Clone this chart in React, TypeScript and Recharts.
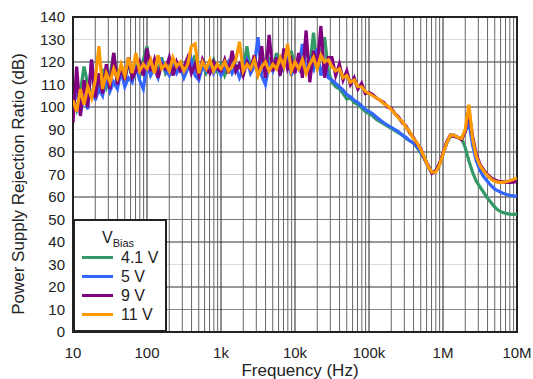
import React from 'react';
import { LineChart, Line, XAxis, YAxis, CartesianGrid, ReferenceArea } from 'recharts';

// frequency points (Hz), 20 per decade
const freqHz = [
  10, 11.2, 12.6, 14.1, 15.8, 17.8, 20, 22.4, 25.1, 28.2, 31.6, 35.5, 39.8, 44.7, 50.1, 56.2, 63.1, 70.8, 79.4, 89.1,
  100, 112, 126, 141, 158, 178, 200, 224, 251, 282, 316, 355, 398, 447, 501, 562, 631, 708, 794, 891,
  1000, 1122, 1259, 1413, 1585, 1778, 1995, 2239, 2512, 2818, 3162, 3548, 3981, 4467, 5012, 5623, 6310, 7079, 7943, 8913,
  10000, 11220, 12590, 14130, 15850, 17780, 19950, 22390, 25120, 28180, 31620, 35480, 39810, 44670, 50120, 56230, 63100, 70790, 79430, 89130,
  100000, 112200, 125900, 141300, 158500, 177800, 199500, 223900, 251200, 281800, 316200, 354800, 398100, 446700, 501200, 562300, 631000, 707900, 794300, 891300,
  1000000, 1122000, 1259000, 1413000, 1585000, 1778000, 1995000, 2239000, 2512000, 2818000, 3162000, 3548000, 3981000, 4467000, 5012000, 5623000, 6310000, 7079000, 7943000, 8913000,
  10000000,
];

// PSRR (dB) per bias voltage
const psrr4v1 = [
  104, 99, 107, 118, 110, 104, 113, 106, 117, 109,
  114, 124, 110, 116, 112, 120, 113, 118, 114, 121,
  127, 115, 119, 116, 122, 115, 118, 121, 116, 119,
  115, 120, 117, 123, 116, 119, 115, 118, 121, 116,
  119, 114, 118, 122, 116, 119, 117, 127, 116, 120,
  115, 119, 116, 121, 117, 124, 116, 120, 118, 125,
  117, 121, 119, 126, 118, 133, 117, 124, 131, 116,
  111, 109, 108, 106, 103.5, 104, 102, 101, 99.5, 98,
  97, 96, 94.5, 93.5, 92.5, 91.5, 90.5, 89.5, 88.5, 87.5,
  86, 85, 84, 82, 79.5, 77, 73.5, 71, 71.5, 74.5,
  79, 84, 87, 87, 86.5, 86, 82, 76, 71, 67,
  64.5, 62, 59.5, 57.5, 55.5, 54, 53.2, 52.7, 52.4, 52.3,
  52.4,
];

const psrr5v = [
  100, 108, 97, 105, 99, 121, 103, 108, 105, 114,
  107, 111, 108, 116, 109, 113, 111, 118, 112, 108,
  119, 114, 117, 113, 120, 116, 114, 119, 115, 118,
  113, 117, 121, 114, 112, 118, 116, 120, 115, 118,
  114, 117, 120, 115, 118, 113, 117, 121, 115, 118,
  131, 114, 110, 119, 116, 121, 115, 118, 123, 114,
  120, 117, 128, 115, 121, 117, 126, 114, 120, 113,
  112, 110.5, 109, 107.5, 105.5, 104.5, 103, 102, 100.5, 99,
  98, 97, 95.5, 94.2, 93, 92, 91, 90, 89, 87.5,
  86.5, 85, 84, 82.5, 80, 77, 73.5, 71, 71.5, 74.5,
  79, 84, 87.5, 87.5, 86.5, 86, 89, 93, 83, 76,
  72, 69, 67, 65, 63.5, 62.6, 61.8, 61.2, 60.8, 60.5,
  60.4,
];

const psrr9v = [
  93, 118, 96, 112, 100, 121, 104, 115, 106, 119,
  108, 124, 110, 118, 112, 122, 113, 116, 120, 114,
  126, 116, 121, 113, 119, 117, 122, 114, 120, 116,
  118, 122, 115, 119, 114, 121, 117, 115, 120, 117,
  116, 121, 115, 125, 116, 119, 114, 120, 117, 123,
  115, 127, 113, 132, 116, 122, 114, 126, 117, 121,
  115, 124, 113, 134, 111, 125, 118, 136, 113, 122,
  122, 114, 119, 112, 116, 110, 113, 108, 110.5, 106,
  106.5, 105.5, 104, 103, 102, 100, 99.5, 97, 95.5, 93,
  91.5, 88.5, 86.5, 83.5, 81.5, 77, 74, 70.5, 71.5, 74.5,
  79.5, 84.5, 87.5, 87, 86.5, 85.5, 89, 98, 87, 79,
  74.5, 72, 70, 68.5, 67.5, 67, 66.8, 66.5, 66.5, 66.6,
  67,
];

const psrr11v = [
  103, 98, 108, 101, 109, 104, 112, 127, 108, 115,
  111, 117, 113, 119, 114, 122, 115, 124, 116, 119,
  117, 121, 115, 123, 117, 119, 116, 122, 118, 120,
  116, 119, 127, 128, 115, 120, 117, 121, 116, 119,
  117, 120, 116, 118, 121, 129, 116, 119, 117, 121,
  114, 118, 120, 116, 119, 117, 122, 118, 128, 116,
  120, 117, 121, 115, 119, 122, 117, 123, 120, 121,
  118, 116, 117, 113, 114, 111, 112, 109, 109, 107,
  106, 105, 104, 103, 101.5, 100.5, 99, 97, 95, 93.5,
  91, 89, 86, 84, 81, 77.5, 73.5, 71, 71, 74,
  79, 84, 87.5, 87.5, 86.5, 86, 90, 101, 86, 78,
  74, 71.5, 69.5, 68, 67, 66.5, 66.5, 66.8, 67.2, 67.8,
  68.5,
];

const seriesNames = ['4.1 V', '5 V', '9 V', '11 V'];
const decades = [10, 100, 1000, 10000, 100000, 1000000, 10000000];
const decadeLabels = ['10', '100', '1k', '10k', '100k', '1M', '10M'];
const yTicks = [0, 10, 20, 30, 40, 50, 60, 70, 80, 90, 100, 110, 120, 130, 140];

const colors = ['#339966', '#3366ff', '#800080', '#ff9900'];
const keys = ['v41', 'v5', 'v9', 'v11'];

// grid at 1..9 x each decade
const gridFreqs: number[] = [];
decades.forEach((d, i) => {
  if (i === decades.length - 1) gridFreqs.push(d);
  else for (let m = 1; m <= 9; m++) gridFreqs.push(d * m);
});

const hStroke = ['#333', '#888', '#333', '#ddd', '#333', '#777', '#333', '#ccc', '#333', '#e5e5e5', '#333', '#d5d5d5', '#333', '#ddd', '#333'];

const rows = freqHz.map((f, i) => ({
  f,
  v41: psrr4v1[i],
  v5: psrr5v[i],
  v9: psrr9v[i],
  v11: psrr11v[i],
}));

const fmtX = (v: number) => {
  const k = decades.indexOf(v);
  return k >= 0 ? decadeLabels[k] : '';
};

const VLine = (p: any) => {
  const isDecade = decades.includes(gridFreqs[p.index]);
  return <line key={p.key} x1={p.x1} x2={p.x2} y1={p.y1} y2={p.y2} stroke={isDecade ? '#222' : '#666'} strokeWidth={1} />;
};

const HLine = (p: any) => (
  <line key={p.key} x1={p.x1} x2={p.x2} y1={p.y1} y2={p.y2} stroke={hStroke[p.index] || '#333'} strokeWidth={1} />
);

const XTitle = () => (
  <text x={300} y={376} textAnchor="middle" fontSize={17} fill="#222">Frequency (Hz)</text>
);

const YTitle = () => (
  <text x={18} y={184} transform="rotate(-90 18 184)" textAnchor="middle" dominantBaseline="central" fontSize={17} fill="#222">
    Power Supply Rejection Ratio (dB)
  </text>
);

export default function App() {
  return (
    <div style={{ position: 'absolute', left: 0, top: 0, width: 533, height: 379, background: '#fff', fontFamily: '"Liberation Sans", Arial, sans-serif' }}>
      <LineChart width={533} height={379} data={rows} margin={{ top: 17, right: 16, bottom: 0, left: 0 }}>
        <CartesianGrid vertical={VLine} horizontal={HLine} />
        <XAxis
          dataKey="f"
          type="number"
          scale="log"
          domain={[10, 10000000]}
          ticks={gridFreqs}
          interval={0}
          tickFormatter={fmtX}
          axisLine={false}
          tickLine={false}
          tickSize={6}
          tickMargin={9}
          height={47}
          tick={{ fill: '#222', fontSize: 15 }}
          allowDataOverflow
          label={<XTitle />}
        />
        <YAxis
          type="number"
          domain={[0, 140]}
          ticks={yTicks}
          interval={0}
          axisLine={false}
          tickLine={false}
          width={73}
          tick={{ fill: '#222', fontSize: 15 }}
          label={<YTitle />}
        />
        <ReferenceArea x1={10} x2={10000000} y1={0} y2={140} fill="none" stroke="#222" strokeWidth={2} />
        {keys.map((k, i) => (
          <Line key={k} dataKey={k} name={seriesNames[i]} stroke={colors[i]} strokeWidth={3.2} dot={false} isAnimationActive={false} type="linear" />
        ))}
      </LineChart>
      <div style={{ position: 'absolute', left: 73, top: 219, width: 94, height: 113, boxSizing: 'border-box', border: '2px solid #222', background: '#fff', color: '#222' }}>
        <div style={{ position: 'absolute', left: 27, top: 8, fontSize: 16, lineHeight: '18px' }}>
          V<span style={{ fontSize: 11, position: 'relative', top: 4 }}>Bias</span>
        </div>
        {seriesNames.map((n, i) => (
          <div key={n} style={{ position: 'absolute', left: 0, top: 27 + i * 19, height: 19, width: 90 }}>
            <div style={{ position: 'absolute', left: 7, top: 8, width: 31, height: 3, background: colors[i] }} />
            <div style={{ position: 'absolute', left: 46, top: 0, fontSize: 16, lineHeight: '19px' }}>{n}</div>
          </div>
        ))}
      </div>
    </div>
  );
}
